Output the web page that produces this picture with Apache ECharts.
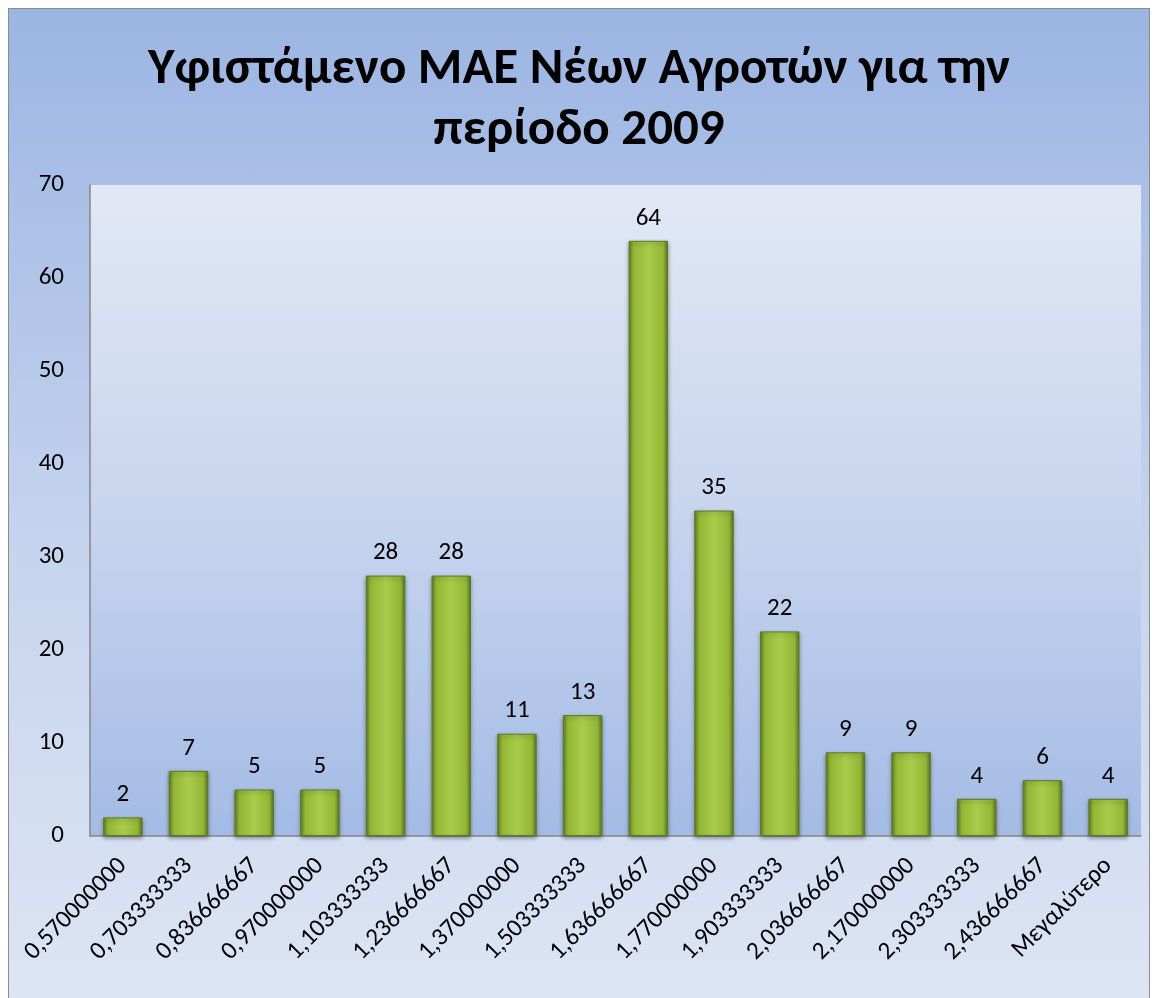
<!DOCTYPE html>
<html>
<head>
<meta charset="utf-8">
<script src="https://cdn.jsdelivr.net/npm/echarts@6/dist/echarts.min.js"></script>
<style>
    html, body { margin: 0; padding: 0; background: #fff; }
    #chart {
        position: absolute; left: 8px; top: 8px;
        width: 1140px; height: 990px;
        border: 1px solid #8c8c8c;
        background: linear-gradient(to bottom, #9bb5e3 0%, #c6d4ee 55%, #dde5f4 100%);
    }
</style>
</head>
<body>
<div id="chart"></div>
<script>
// κατηγορίες (άξονας x)
var categories = ["0,570000000", "0,703333333", "0,836666667", "0,970000000", "1,103333333",
    "1,236666667", "1,370000000", "1,503333333", "1,636666667", "1,770000000", "1,903333333",
    "2,036666667", "2,170000000", "2,303333333", "2,436666667", "Μεγαλύτερο"];
// συχνότητες
var counts = [2, 7, 5, 5, 28, 28, 11, 13, 64, 35, 22, 9, 9, 4, 6, 4];
var yTicks = [0, 10, 20, 30, 40, 50, 60, 70];

var font = "Carlito, 'Open Sans', 'Liberation Sans', sans-serif";
var dom = echarts.init(document.getElementById("chart"));

var option = {
    animation: false,
    title: {
        text: "Υφιστάμενο ΜΑΕ Νέων Αγροτών για την\nπερίοδο 2009",
        left: "center",
        top: 26,
        textStyle: {
            fontFamily: font,
            fontSize: 51,
            fontWeight: "bold",
            color: "#000",
            lineHeight: 61
        }
    },
    grid: {
        left: 81,
        right: 8,
        top: 176,
        bottom: 163,
        show: true,
        borderWidth: 0,
        backgroundColor: new echarts.graphic.LinearGradient(0, 0, 0, 1, [
            {offset: 0, color: "#e2e8f5"},
            {offset: 0.5, color: "#c8d5ee"},
            {offset: 1, color: "#a3bbe5"}
        ])
    },
    xAxis: {
        type: "category",
        data: categories,
        axisLine: {lineStyle: {color: "#868686", width: 1.5}},
        axisTick: {show: false},
        axisLabel: {
            rotate: 45,
            interval: 0,
            margin: 26,
            fontFamily: font,
            fontSize: 25,
            color: "#000"
        }
    },
    yAxis: {
        type: "value",
        min: yTicks[0],
        max: yTicks[yTicks.length - 1],
        interval: 10,
        splitLine: {show: false},
        axisLine: {show: true, lineStyle: {color: "#868686", width: 1.5}},
        axisTick: {show: false},
        axisLabel: {
            margin: 26,
            fontFamily: font,
            fontSize: 25,
            color: "#000"
        }
    },
    series: [{
        type: "bar",
        data: counts,
        barCategoryGap: "40%",
        label: {
            show: true,
            position: "top",
            distance: 10,
            fontFamily: font,
            fontSize: 25,
            color: "#000"
        },
        itemStyle: {
            color: new echarts.graphic.LinearGradient(0, 0, 1, 0, [
                {offset: 0, color: "#5f7d1c"},
                {offset: 0.12, color: "#93b635"},
                {offset: 0.5, color: "#a9cc4c"},
                {offset: 0.88, color: "#93b635"},
                {offset: 1, color: "#5a761a"}
            ]),
            borderColor: "#5b7a1f",
            borderWidth: 1,
            shadowColor: "rgba(0,0,0,0.35)",
            shadowBlur: 4,
            shadowOffsetY: 2
        }
    }]
};
dom.setOption(option);
</script>
</body>
</html>
